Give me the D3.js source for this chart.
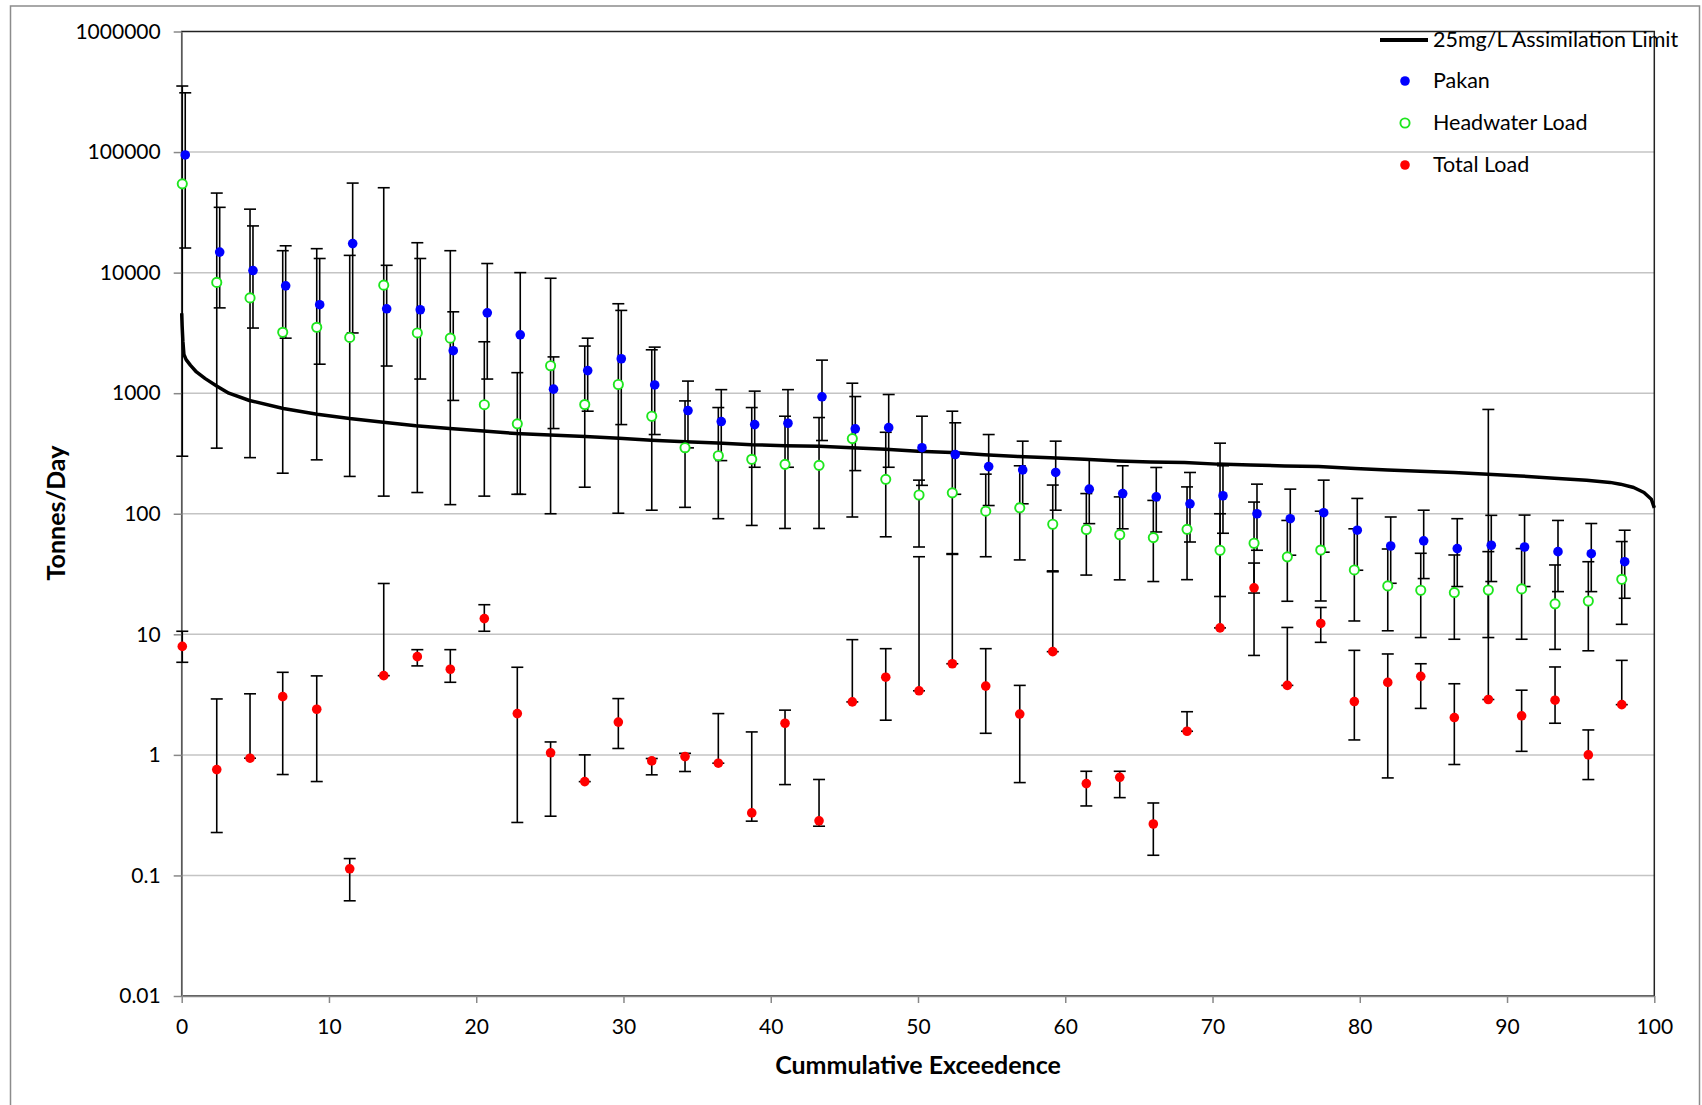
<!DOCTYPE html>
<html>
<head>
<meta charset="utf-8">
<script src="https://cdn.jsdelivr.net/npm/d3@7"></script>
<style>
  body { margin: 0; background: #fff; }
  svg text { font-family: Lato, "Open Sans", sans-serif; fill: #000; }
</style>
</head>
<body>
<svg id="chart" width="1702" height="1105"></svg>
<script>
// load duration curve: sampled loads vs cumulative exceedence, log scale

var exceedence = [0.04, 2.38, 4.64, 6.86, 9.17, 11.41, 13.72, 16.0, 18.24, 20.55, 22.79,
  25.05, 27.37, 29.65, 31.92, 34.18, 36.44, 38.71, 40.97, 43.28, 45.54, 47.81, 50.07,
  52.33, 54.6, 56.91, 59.15, 61.43, 63.7, 65.98, 68.27, 70.51, 72.82, 75.08, 77.35,
  79.63, 81.9, 84.14, 86.42, 88.73, 90.99, 93.26, 95.52, 97.79];
var pakanExceedence = [0.24, 2.58, 4.84, 7.06, 9.37, 11.61, 13.92, 16.2, 18.44, 20.75, 22.99,
  25.25, 27.57, 29.85, 32.12, 34.38, 36.64, 38.91, 41.17, 43.48, 45.74, 48.01, 50.27,
  52.53, 54.8, 57.11, 59.35, 61.63, 63.9, 66.18, 68.47, 70.71, 73.02, 75.28, 77.55,
  79.83, 82.1, 84.34, 86.62, 88.93, 91.19, 93.46, 95.72, 97.99];

var pakan = [94600, 14800, 10400, 7770, 5420, 17400, 5010, 4920, 2250, 4640, 3050,
  1080, 1540, 1930, 1170, 718, 582, 549, 563, 933, 506, 518, 353,
  310, 246, 231, 220, 160, 147, 138, 121, 141, 100, 91, 102,
  73, 54, 59.6, 51.4, 54.8, 53, 48.5, 46.6, 40];
var pakanLow = [16000, 5100, 3470, 2860, 1740, 3160, 1680, 1310, 871, 1310, 145,
  509, 709, 549, 454, 352, 276, 243, 243, 405, 228, 243, 172,
  145, 117, 121, 107, 82.8, 75, 70.6, 58.3, 68.9, 49.8, 45.3, 48,
  34, 26.5, 29, 24.9, 27.4, 24.9, 22.6, 22.6, 19.9];
var pakanHigh = [310000, 34800, 24400, 16700, 13100, 55300, 11500, 13100, 4730, 11900, 10000,
  2000, 2860, 4860, 2410, 1260, 1070, 1040, 1070, 1880, 938, 975, 644,
  568, 454, 400, 400, 280, 250, 242, 220, 250, 176, 160, 190,
  134, 94, 107, 91, 97, 97.5, 88, 83, 73];

var headwater = [54500, 8300, 6170, 3200, 3520, 2900, 7870, 3160, 2860, 803, 557,
  1690, 805, 1180, 644, 353, 303, 283, 257, 252, 420, 193, 143,
  149, 105, 112, 81.8, 74, 67, 63.4, 74.3, 49.8, 56.9, 43.9, 50,
  34.2, 25.2, 23.2, 22.2, 23.3, 23.8, 17.9, 18.9, 28.6];
var headwaterLow = [300, 350, 292, 217, 280, 204, 140, 150, 119, 140, 145,
  100, 166, 101, 107, 113, 91, 80, 75.5, 75.5, 94, 64.4, 53,
  46.7, 44, 41.4, 33, 31, 28.3, 27.4, 28.4, 20.6, 22, 18.8, 18.9,
  12.9, 10.7, 9.4, 9.1, 9.4, 9.1, 7.5, 7.3, 12.1];
var headwaterHigh = [353000, 45700, 33600, 15200, 15800, 13900, 50600, 17700, 15200, 2670, 1480,
  8980, 2460, 5520, 2290, 863, 760, 760, 644, 628, 1210, 474, 190,
  709, 213, 250, 173, 147, 138, 129, 167, 385, 125, 88, 105,
  75, 51, 47, 45.5, 48.5, 51.4, 37.6, 40, 58.8];

var totalLoad = [7.94, 0.755, 0.938, 3.04, 2.39, 0.1135, 4.54, 6.53, 5.13, 13.5, 2.2,
  1.04, 0.6, 1.87, 0.892, 0.968, 0.853, 0.33, 1.83, 0.284, 2.75, 4.41, 3.4,
  5.7, 3.72, 2.18, 7.18, 0.578, 0.652, 0.267, 1.57, 11.3, 24.3, 3.77, 12.3,
  2.77, 3.99, 4.48, 2.04, 2.88, 2.11, 2.84, 1.0, 2.61];
var totalLow = [5.86, 0.227, 0.938, 0.687, 0.601, 0.0616, 4.54, 5.47, 4.0, 10.6, 0.275,
  0.31, 0.6, 1.13, 0.683, 0.728, 0.853, 0.282, 0.567, 0.256, 2.75, 1.94, 3.4,
  5.7, 1.51, 0.589, 7.18, 0.377, 0.442, 0.147, 1.57, 11.3, 6.68, 3.77, 8.58,
  1.33, 0.644, 2.43, 0.832, 2.88, 1.07, 1.83, 0.624, 2.61];
var totalHigh = [10.6, 2.91, 3.21, 4.84, 4.52, 0.138, 26.4, 7.46, 7.46, 17.6, 5.33,
  1.28, 1.0, 2.93, 0.933, 1.03, 2.2, 1.55, 2.35, 0.625, 9.03, 7.6, 44,
  46, 7.6, 3.77, 33.6, 0.731, 0.731, 0.399, 2.28, 100, 39, 11.4, 16.7,
  7.36, 6.87, 5.7, 3.89, 733, 3.44, 5.36, 1.61, 6.08];

// 25mg/L assimilation limit curve
var limitExceedence = [0, 0.03, 0.08, 0.15, 0.3, 0.6, 1.0, 1.6, 2.4, 3.2, 4.6, 6.9, 9.2,
  11.4, 13.7, 15.9, 18.2, 20.5, 22.7, 25.0, 27.4, 29.7, 31.9, 34.2, 36.4, 38.7, 41.0,
  43.3, 45.5, 47.8, 50.0, 52.3, 54.5, 56.8, 59.0, 61.3, 63.6, 65.8, 68.1, 70.3, 72.6,
  74.9, 77.2, 79.7, 81.9, 84.1, 86.4, 88.7, 90.9, 93.2, 95.4, 97.0, 97.7, 98.6, 99.3,
  99.8, 100];
var limitLoad = [4600, 3600, 2700, 2100, 1900, 1700, 1500, 1320, 1140, 1000, 870, 747, 670,
  617, 575, 537, 509, 485, 463, 450, 438, 423, 407, 396, 387, 374, 367,
  363, 352, 343, 330, 322, 308, 298, 292, 283, 274, 269, 266, 258, 254,
  249, 246, 237, 231, 225, 220, 213, 206, 197, 190, 182, 176, 165, 150,
  132, 112];

var yTicks = [0.01, 0.1, 1, 10, 100, 1000, 10000, 100000, 1000000];
var yTickLabels = ["0.01", "0.1", "1", "10", "100", "1000", "10000", "100000", "1000000"];
var xTicks = [0, 10, 20, 30, 40, 50, 60, 70, 80, 90, 100];

var plotLeft = 181.7, plotRight = 1654.3, plotTop = 31.5, plotBottom = 996;
var markerR = 4.8, ringR = 4.6, capHalf = 6;
var green = "#1ee61e";

var svg = d3.select("#chart");

// outer chart frame
svg.append("rect")
  .attr("x", 10.5).attr("y", 6).attr("width", 1689).attr("height", 1110)
  .attr("fill", "#fff").attr("stroke", "#8c8c8c").attr("stroke-width", 1.5);

var x = d3.scaleLinear().domain([0, 100]).range([plotLeft, plotRight]);
var y = d3.scaleLog().domain([0.01, 1000000]).range([plotBottom, plotTop]);

// gridlines
svg.append("g").selectAll("line")
  .data(yTicks.slice(1, -1)).enter().append("line")
  .attr("x1", plotLeft).attr("x2", plotRight)
  .attr("y1", function(d) { return y(d); }).attr("y2", function(d) { return y(d); })
  .attr("stroke", "#c4c4c4").attr("stroke-width", 1.5);

// plot area border (top + right show dark)
svg.append("rect")
  .attr("x", plotLeft).attr("y", plotTop)
  .attr("width", plotRight - plotLeft).attr("height", plotBottom - plotTop)
  .attr("fill", "none").attr("stroke", "#222").attr("stroke-width", 1.5);

// axes
var yAxis = d3.axisLeft(y).tickValues(yTicks)
  .tickFormat(function(d, i) { return yTickLabels[i]; })
  .tickSize(8).tickSizeOuter(0).tickPadding(13);
var xAxis = d3.axisBottom(x).tickValues(xTicks).tickFormat(d3.format("d"))
  .tickSize(7).tickSizeOuter(0).tickPadding(16.5);

var gy = svg.append("g").attr("transform", "translate(" + plotLeft + ",0)").call(yAxis);
var gx = svg.append("g").attr("transform", "translate(0," + plotBottom + ")").call(xAxis);
[gx, gy].forEach(function(g) {
  g.select(".domain").attr("stroke", "#888").attr("stroke-width", 1.5);
  g.selectAll(".tick line").attr("stroke", "#888").attr("stroke-width", 1.5);
  g.selectAll(".tick text").attr("font-size", 21).attr("font-family", "Lato, sans-serif")
    .attr("fill", "#000");
});

// axis titles
svg.append("text")
  .attr("transform", "translate(65,513) rotate(-90)")
  .attr("text-anchor", "middle").attr("font-size", 25).attr("font-weight", "bold")
  .text("Tonnes/Day");
svg.append("text")
  .attr("x", 918).attr("y", 1074)
  .attr("text-anchor", "middle").attr("font-size", 25).attr("font-weight", "bold")
  .text("Cummulative Exceedence");

// assimilation limit line
var line = d3.line()
  .x(function(d, i) { return x(limitExceedence[i]); })
  .y(function(d) { return y(d); });
svg.append("path")
  .datum(limitLoad)
  .attr("d", line)
  .attr("fill", "none").attr("stroke", "#000").attr("stroke-width", 3.5)
  .attr("stroke-linejoin", "round");

function errorBars(xs, lo, hi) {
  var g = svg.append("g").attr("stroke", "#000").attr("stroke-width", 1.6);
  xs.forEach(function(xv, i) {
    var px = x(xv), y1 = y(lo[i]), y2 = y(hi[i]);
    g.append("line").attr("x1", px).attr("x2", px).attr("y1", y1).attr("y2", y2);
    g.append("line").attr("x1", px - capHalf).attr("x2", px + capHalf).attr("y1", y1).attr("y2", y1);
    g.append("line").attr("x1", px - capHalf).attr("x2", px + capHalf).attr("y1", y2).attr("y2", y2);
  });
}

errorBars(pakanExceedence, pakanLow, pakanHigh);
errorBars(exceedence, headwaterLow, headwaterHigh);
errorBars(exceedence, totalLow, totalHigh);

function markers(xs, vals, fill, stroke, r, sw) {
  svg.append("g").selectAll("circle")
    .data(vals).enter().append("circle")
    .attr("cx", function(d, i) { return x(xs[i]); })
    .attr("cy", function(d) { return y(d); })
    .attr("r", r)
    .attr("fill", fill).attr("stroke", stroke).attr("stroke-width", sw);
}

markers(pakanExceedence, pakan, "#0000ff", "none", markerR, 0);
markers(exceedence, headwater, "#fff", green, ringR, 1.9);
markers(exceedence, totalLoad, "#ff0000", "none", markerR, 0);

// legend (no box, overlaps plot border like the original)
var lg = svg.append("g");
lg.append("line").attr("x1", 1380).attr("x2", 1428).attr("y1", 40).attr("y2", 40)
  .attr("stroke", "#000").attr("stroke-width", 4);
var legendRows = [
  { label: "25mg/L Assimilation Limit", y: 40 },
  { label: "Pakan", y: 81, fill: "#0000ff", stroke: "none", sw: 0 },
  { label: "Headwater Load", y: 123, fill: "#fff", stroke: green, sw: 1.9 },
  { label: "Total Load", y: 165, fill: "#ff0000", stroke: "none", sw: 0 }
];
legendRows.forEach(function(r) {
  if (r.fill)
    lg.append("circle").attr("cx", 1405).attr("cy", r.y).attr("r", r.sw ? ringR : markerR)
      .attr("fill", r.fill).attr("stroke", r.stroke).attr("stroke-width", r.sw);
  lg.append("text").attr("x", 1433).attr("y", r.y + 7).attr("font-size", 21.5).text(r.label);
});
</script>
</body>
</html>
